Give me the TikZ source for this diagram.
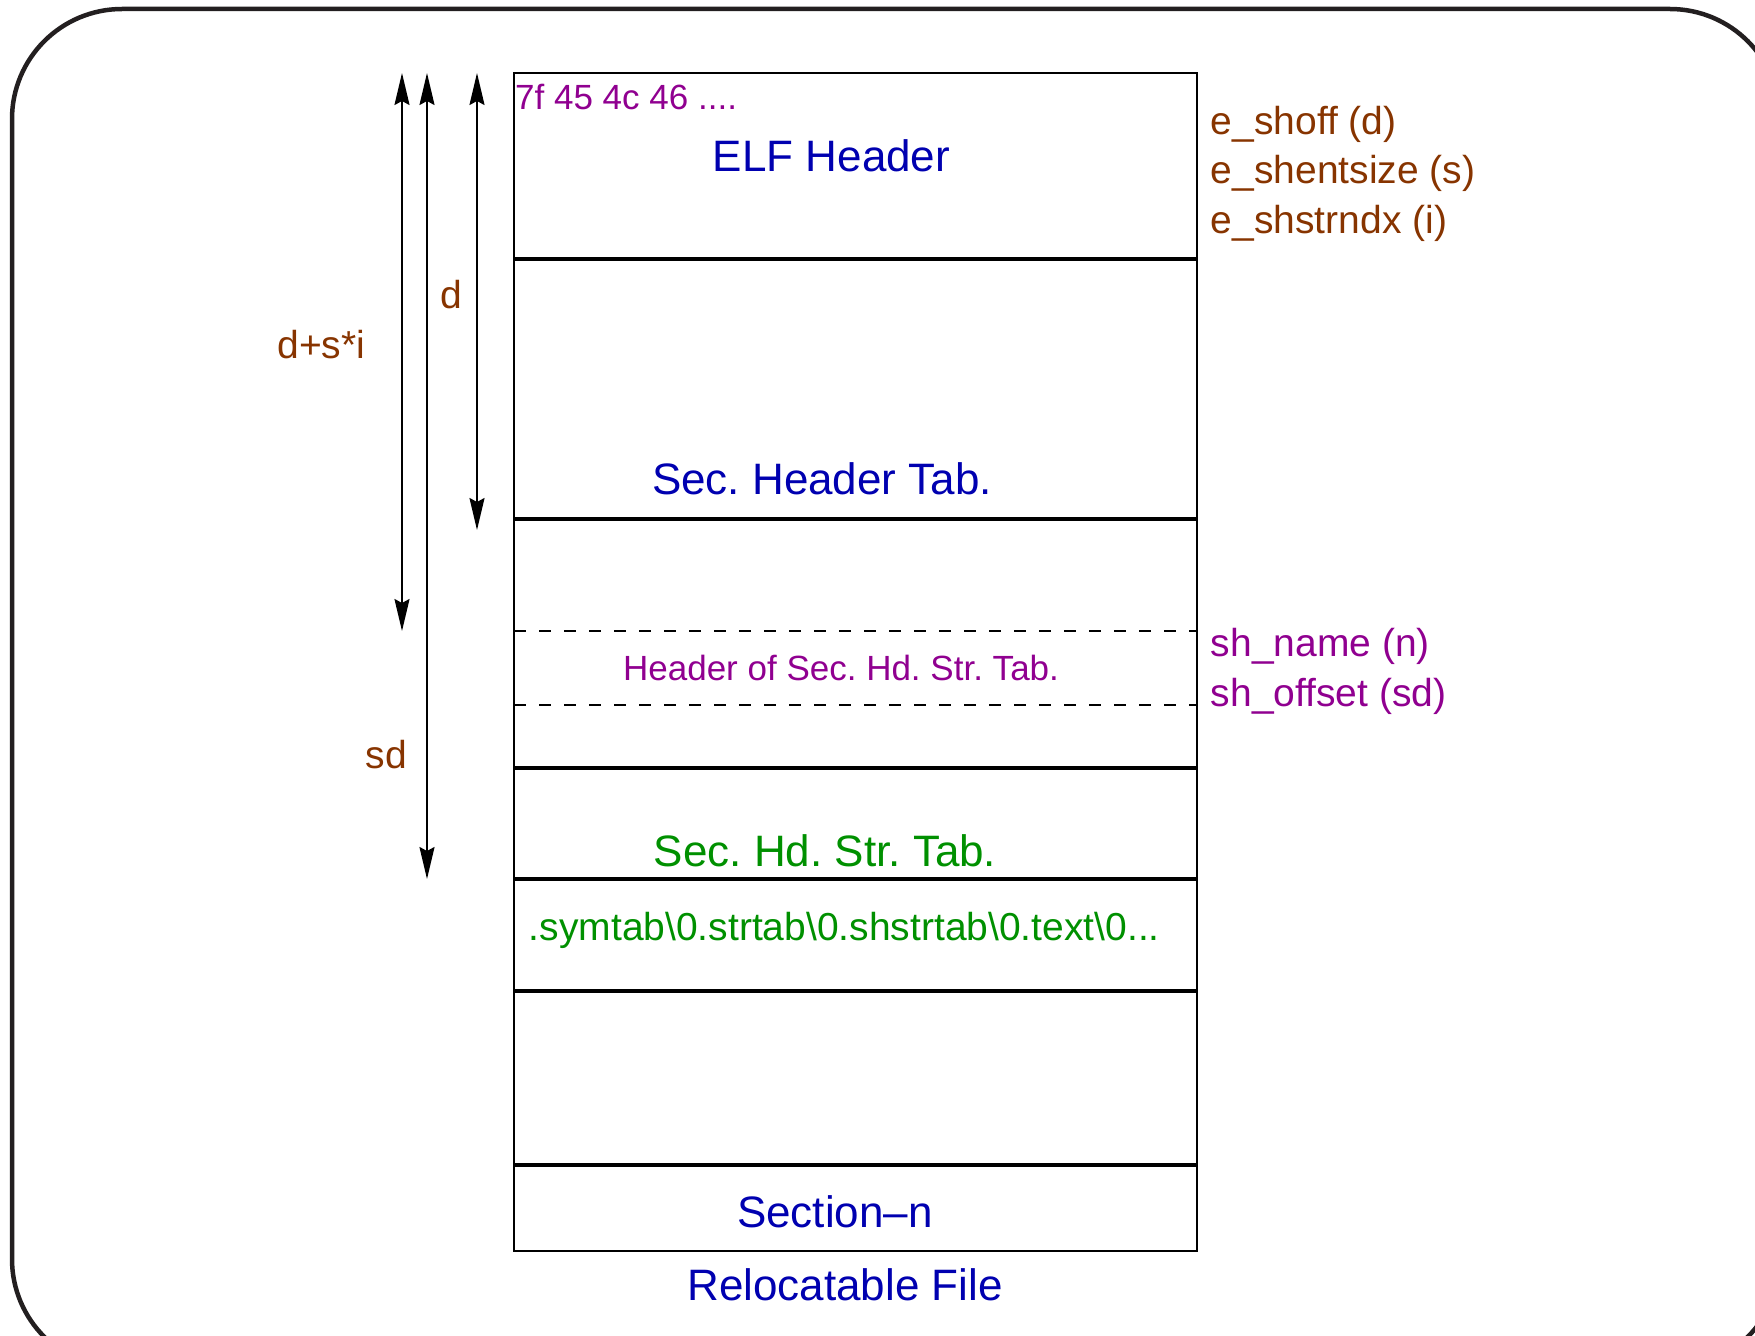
\documentclass[tikz,border=0pt]{standalone}
\usepackage{fontspec}
\setmainfont{Liberation Sans}
\usetikzlibrary{arrows.meta}

\definecolor{fbrown}{RGB}{135,52,0}
\definecolor{fpurple}{RGB}{144,0,144}
\definecolor{fblue}{RGB}{0,0,176}
\definecolor{fgreen}{RGB}{0,144,0}
\definecolor{framegray}{RGB}{35,31,32}

\tikzset{
  bigtext/.style={font=\fontsize{44}{50}\selectfont, inner sep=0pt, anchor=base},
  midtext/.style={font=\fontsize{39}{45}\selectfont, inner sep=0pt},
  smalltext/.style={font=\fontsize{35}{40}\selectfont, inner sep=0pt},
  secline/.style={line width=4pt},
  dashline/.style={line width=2pt, dash pattern=on 12pt off 13pt},
  offsetarrow/.style={line width=2pt,
    {Stealth[length=32pt,width=15pt,inset=4pt]}-{Stealth[length=32pt,width=15pt,inset=4pt]}},
}

\begin{document}
\frenchspacing
\begin{tikzpicture}[x=1pt,y=-1pt]
\useasboundingbox (0,0) rectangle (1755,1335);
\clip (0,0) rectangle (1755,1335);

% outer rounded frame
\draw[framegray, line width=4.5pt, rounded corners=110pt] (12,9) rectangle (1780,1369);

% file layout column
\draw[line width=2.3pt] (514,73) rectangle (1197,1251);
\draw[secline] (514,258.5) -- (1197,258.5);
\draw[secline] (514,519)   -- (1197,519);
\draw[secline] (514,768)   -- (1197,768);
\draw[secline] (514,879)   -- (1197,879);
\draw[secline] (514,990.5) -- (1197,990.5);
\draw[secline] (514,1165)  -- (1197,1165);
\draw[dashline] (514,631) -- (1197,631);
\draw[dashline] (514,705) -- (1197,705);

% section texts
\node[smalltext, text=fpurple, anchor=base west] (magic) at (515,110) {7f 45 4c 46 ....};
\node[bigtext, text=fblue] (elfhdr) at (831.5,171.7) {ELF Header};
\node[bigtext, text=fblue] (shtab) at (822,494) {Sec. Header Tab.};
\node[smalltext, text=fpurple, anchor=base] (strhdr) at (841,680.7) {Header of Sec. Hd. Str. Tab.};
\node[bigtext, text=fgreen] (strtab) at (825,866.7) {Sec. Hd. Str. Tab.};
\node[midtext, text=fgreen, anchor=base west] (strings) at (528.7,940)
  {.symtab\textbackslash0.strtab\textbackslash0.shstrtab\textbackslash0.text\textbackslash0...};
\node[bigtext, text=fblue] (secn) at (835,1227.3) {Section\textendash n};
\node[bigtext, text=fblue] (caption) at (845,1300.7) {Relocatable File};

% ELF header fields
\node[midtext, text=fbrown, anchor=base west] (eshoff) at (1210.7,134.3) {e\_shoff (d)};
\node[midtext, text=fbrown, anchor=base west] (eshentsize) at (1210.7,183.8) {e\_shentsize (s)};
\node[midtext, text=fbrown, anchor=base west] (eshstrndx) at (1210.7,233.3) {e\_shstrndx (i)};

% section header fields
\node[midtext, text=fpurple, anchor=base west] (shname) at (1210.7,656.7) {sh\_name (n)};
\node[midtext, text=fpurple, anchor=base west] (shoffset) at (1210.7,706.2) {sh\_offset (sd)};

% offset arrows
\coordinate (a1top) at (402,73);  \coordinate (a1bot) at (402,631);
\coordinate (a2top) at (427,73);  \coordinate (a2bot) at (427,879);
\coordinate (a3top) at (477,73);  \coordinate (a3bot) at (477,530);
\draw[offsetarrow] (a1top) -- (a1bot);
\draw[offsetarrow] (a2top) -- (a2bot);
\draw[offsetarrow] (a3top) -- (a3bot);

\node[midtext, text=fbrown, anchor=base east] (lbldsi) at (365.5,358) {d+s*i};
\node[midtext, text=fbrown, anchor=base west] (lbld) at (440,308) {d};
\node[midtext, text=fbrown, anchor=base west] (lblsd) at (365.7,768) {sd};
\end{tikzpicture}
\end{document}
